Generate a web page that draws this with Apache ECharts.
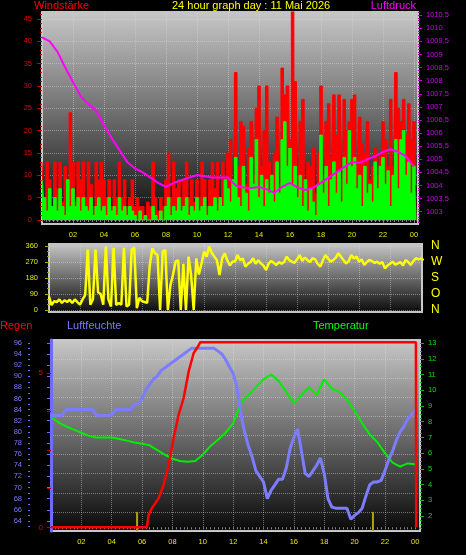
<!DOCTYPE html>
<html><head><meta charset="utf-8">
<script src="https://cdn.jsdelivr.net/npm/echarts@6/dist/echarts.min.js"></script>
<style>html,body{margin:0;padding:0;background:#000;}#c{width:466px;height:555px;}</style>
</head><body><div id="c"></div>
<script>
// ---------- data ----------
const WIND_STEP_H = 1 / 6;      // 10-minute samples
const PRESSURE_STEP_H = 0.5;
const DIR_STEP_H = 1 / 6;
const HUM_STEP_H = 0.25;
const TEMP_STEP_H = 0.5;

const windGust = [
  13,5,13,9,3,13, 7,13,4,12,9,24, 13,4,13,9,13,5, 13,8,3,13,9,13,
  9,5,9,3,9,5, 13,5,9,3,5,9, 3,5,3,3,1,4, 3,13,5,2,5,3,
  9,15,5,13,7,9, 5,9,13,5,9,4, 9,5,13,9,3,9, 13,7,13,5,13,9,
  15,18,9,33,12,22, 21,8,16,22,10,25, 30,12,20,30,13,10, 15,23,8,34,28,30,
  18,47,31,12,22,27, 9,13,12,16,6,15, 30,10,22,26,14,28, 19,28,9,27,20,22,
  27,28,14,23,17,15, 22,9,12,16,10,15, 22,18,12,27,12,33, 25,22,27,19,26,18,
  22,12
];
const windAvg = [
  9,5,2,7,3,5, 2,7,3,1,9,3, 7,3,5,2,5,3, 2,5,1,3,5,2,
  3,1,5,2,3,1, 5,2,3,1,3,2, 1,0,2,0,1,0, 0,3,1,0,2,0,
  3,5,1,3,2,5, 2,3,5,1,3,2, 5,2,3,5,1,3, 3,5,2,5,3,9,
  7,4,9,14,5,3, 12,6,2,14,8,18, 5,10,3,9,6,10, 4,13,6,18,22,12,
  16,8,12,5,10,3, 9,2,7,4,1,8, 19,6,12,3,9,13, 6,11,4,14,8,20,
  12,14,7,10,3,12, 6,8,4,13,7,12, 14,8,11,3,10,18, 7,18,20,10,13,6,
  12,8
];
const pressure = [
  1009.65,1009.5,1009.1,1008.5,1007.95,1007.4,1007.1,1006.85,1006.3,1005.8,
  1005.35,1004.9,1004.65,1004.5,1004.3,1004.1,1003.95,1004.1,1004.2,1004.3,
  1004.4,1004.35,1004.3,1004.3,1004.3,1004.0,1003.92,1003.9,1003.94,1003.85,
  1003.72,1003.95,1004.1,1003.92,1003.83,1003.92,1004.1,1004.3,1004.5,1004.7,
  1004.9,1004.87,1005.0,1005.12,1005.28,1005.38,1005.28,1005.1,1004.72
];
const windDir = [
  75,28,50,45,60,40, 55,45,58,40,60,45, 30,60,84,340,30,60, 340,100,90,30,356,60,
  20,350,28,40,30,350, 20,30,340,350,10,69, 50,45,40,253,347,320, 309,0,330,337,0,140,
  200,272,280,0,260,0, 300,197,0,290,200,260, 328,300,356,320,300,280, 197,290,319,280,250,272,
  272,309,280,290,244,260, 270,291,260,280,262,250, 225,260,276,265,253,270, 260,270,300,280,272,265,
  285,309,275,295,281,270, 291,285,260,244,280,309, 290,272,280,295,319,300, 280,262,275,309,290,300,
  272,285,253,270,281,275, 265,272,260,270,234,250, 260,272,255,262,270,250, 281,270,253,275,291,285,
  290,280
];
const humidity = [
  83,83,83,83,84,84,84,84,84,84,84,84,83,83,83,83,83,84,84,84,84,84,85,85,
  86,87.5,88.5,89.5,90,91,91.5,92,92.5,93,93.5,94,94.5,95,95,95,95,95,95,95,
  94.5,94,93,91.7,90.5,88,83.5,80,77.5,75.5,73,72,71,68,69.5,70.5,71.5,71.5,73.5,77,
  79,80.5,76.5,72.5,72,73,74,75.3,72.5,68,66.5,66.3,66.3,66.3,66.3,64.3,65,65.5,66.3,68.5,
  70.5,71,71,71.3,73,75,76.5,78.5,80,81,82.3,83,84
];
const temperature = [
  8.3,7.95,7.7,7.5,7.3,7.1,7.0,7.0,7.0,6.9,6.8,6.68,6.6,6.5,6.2,5.9,5.65,5.5,5.45,5.5,
  5.9,6.45,6.85,7.3,7.9,9.2,9.7,10.2,10.7,11.0,10.6,9.9,9.2,9.7,10.2,9.7,10.7,10.1,9.9,9.4,
  8.7,7.9,7.2,6.7,6.0,5.4,5.15,5.35,5.3
];
const rainHours  = [0, 6.32, 6.43, 6.65, 7.09, 7.42, 7.75, 8.08, 8.41, 8.74, 9.07, 9.4, 9.62, 9.84, 24.04, 24.06];
const rainValues = [0, 0,    0.4,  0.62, 0.94, 1.37, 2.02, 2.89, 3.65, 4.19, 5.05, 5.65, 5.81, 6.0, 6.0,  0];
const sunEvents = [5.67, 21.21];

// tick labels
const hourTicks = [2,4,6,8,10,12,14,16,18,20,22,24];
const hourText  = ['02','04','06','08','10','12','14','16','18','20','22','00'];
const windTicks = [0,5,10,15,20,25,30,35,40,45];
const pressureTicks = [1003,1003.5,1004,1004.5,1005,1005.5,1006,1006.5,1007,1007.5,1008,1008.5,1009,1009.5,1010,1010.5];
const dirTicks = [0,90,180,270,360];
const dirLetters = ['N','O','S','W','N'];
const humTicks = [64,66,68,70,72,74,76,78,80,82,84,86,88,90,92,94,96];
const rainTickValues = [0,1.25,2.5,3.75,5];
const rainLabels = [0,5];
const tempTicks = [2,3,4,5,6,7,8,9,10,11,12,13];

// ---------- chart ----------
const FONT = 'Liberation Sans, Arial, sans-serif';
function seq(a, b, s) { const r = []; for (let v = a; v <= b + 1e-9; v += s) r.push(+v.toFixed(3)); return r; }
const plotBg = () => ({type:'linear', x:0, y:0, x2:0, y2:1,
  colorStops:[{offset:0,color:'#c8c8c8'},{offset:0.5,color:'#6a6a6a'},{offset:1,color:'#080808'}]});
const dotted = {show:true, lineStyle:{color:'rgba(220,220,220,0.45)', type:'dotted', width:1}};
const gridStyle = {show:true, borderColor:'#c4c4c4', borderWidth:2};

function xAx(gi, max, showLabels) {
  return {type:'value', gridIndex:gi, min:0, max:max, interval:2,
    axisLine:{show:false},
    axisTick:{show:showLabels, length:2, lineStyle:{color:'#8c8c8c'}},
    minorTick:{show:showLabels, splitNumber:8, length:2, lineStyle:{color:'#8c8c8c'}},
    axisLabel:{show:showLabels, color:'#e6e600', fontSize:7.5, fontFamily:FONT, margin:7,
      showMaxLabel:false,
      formatter: v => { const k = hourTicks.indexOf(v); return k < 0 ? '' : hourText[k]; }},
    splitLine: dotted};
}
function minorAx(gi, pos, min, max, values, color, offset) {
  return {type:'value', gridIndex:gi, position:pos, offset:offset||0, min:min, max:max,
    axisLine:{show:false}, splitLine:{show:false}, axisLabel:{show:false},
    axisTick:{show:true, customValues:values, length:2, lineStyle:{color:color}}};
}
function lbl(color, size, margin, extra) {
  return Object.assign({color:color, fontSize:size, fontFamily:FONT, margin:margin}, extra||{});
}

const W = {min:-0.9, max:46.55};
const P = {min:1002.53, max:1010.62};
const D = {min:-11, max:371};
const H = {min:62.2, max:96.5};
const R = {min:-0.12, max:6.07};
const T = {min:1.05, max:13.2};

const option = {
  backgroundColor:'#000',
  animation:false,
  title:[
    {text:'Windstärke', left:34, top:0, padding:0, textStyle:{color:'#ff0000', fontSize:11, fontWeight:'normal', fontFamily:FONT}},
    {text:'24 hour graph day : 11 Mai 2026', left:172, top:0, padding:0, textStyle:{color:'#ffff00', fontSize:11, fontWeight:'normal', fontFamily:FONT}},
    {text:'Luftdruck', right:50, top:0, padding:0, textStyle:{color:'#ff00ff', fontSize:11, fontWeight:'normal', fontFamily:FONT}},
    {text:'Regen', left:0, top:320, padding:0, textStyle:{color:'#ff0000', fontSize:11, fontWeight:'normal', fontFamily:FONT}},
    {text:'Luftfeuchte', left:67, top:320, padding:0, textStyle:{color:'#7b7bff', fontSize:11, fontWeight:'normal', fontFamily:FONT}},
    {text:'Temperatur', left:313, top:320, padding:0, textStyle:{color:'#00ff00', fontSize:11, fontWeight:'normal', fontFamily:FONT}}
  ],
  grid:[
    Object.assign({left:42, top:12, width:376, height:212, backgroundColor:plotBg()}, gridStyle),
    Object.assign({left:49, top:244, width:373, height:68, backgroundColor:plotBg()}, gridStyle),
    Object.assign({left:51, top:340, width:369, height:191, backgroundColor:plotBg()}, gridStyle)
  ],
  xAxis:[ xAx(0, 24.26, true), xAx(1, 24.06, false), xAx(2, 24.31, true) ],
  yAxis:[
    // 0 wind
    {type:'value', gridIndex:0, position:'left', min:W.min, max:W.max, axisLine:{show:false},
      axisLabel:lbl('#e00000', 7.5, 10, {customValues:windTicks}),
      axisTick:{customValues:windTicks, length:5, lineStyle:{color:'#c80000'}}, splitLine:dotted},
    // 1 wind minor
    minorAx(0, 'left', W.min, W.max, seq(0, 46, 1), '#c80000'),
    // 2 pressure
    {type:'value', gridIndex:0, position:'right', min:P.min, max:P.max, axisLine:{show:false}, splitLine:{show:false},
      axisLabel:lbl('#cc00ee', 7.5, 8, {customValues:pressureTicks, formatter: v => String(v).replace('.', ',')}),
      axisTick:{customValues:pressureTicks, length:4, lineStyle:{color:'#cc00cc'}}},
    // 3 pressure minor
    minorAx(0, 'right', P.min, P.max, seq(1002.6, 1010.6, 0.1), '#b000b0'),
    // 4 direction
    {type:'value', gridIndex:1, position:'left', min:D.min, max:D.max, axisLine:{show:false},
      axisLabel:lbl('#e6e600', 7.5, 11, {customValues:dirTicks}),
      axisTick:{customValues:dirTicks, length:4, lineStyle:{color:'#b0b000'}}, splitLine:dotted},
    // 5 direction minor
    minorAx(1, 'left', D.min, D.max, seq(0, 360, 30), '#a0a000'),
    // 6 direction letters
    {type:'value', gridIndex:1, position:'right', min:D.min, max:D.max, axisLine:{show:false}, splitLine:{show:false},
      axisTick:{show:false, customValues:dirTicks},
      axisLabel:lbl('#ffff00', 12, 9, {customValues:dirTicks, formatter: v => dirLetters[dirTicks.indexOf(v)]})},
    // 7 humidity
    {type:'value', gridIndex:2, position:'left', offset:21, min:H.min, max:H.max,
      axisLine:{show:true, lineStyle:{color:'#6c6cff', width:3}}, splitLine:{show:false},
      axisLabel:lbl('#7a7aff', 7.5, 8, {customValues:humTicks}),
      axisTick:{customValues:humTicks, length:4, lineStyle:{color:'#6c6cff'}}},
    // 8 humidity minor
    minorAx(2, 'left', H.min, H.max, seq(63, 96, 1), '#6c6cff', 21),
    // 9 rain
    {type:'value', gridIndex:2, position:'left', min:R.min, max:R.max, axisLine:{show:false}, splitLine:{show:false},
      axisLabel:lbl('#dd0000', 8, 8, {customValues:rainLabels}),
      axisTick:{customValues:rainTickValues, length:4, lineStyle:{color:'#c00000'}}},
    // 10 temperature
    {type:'value', gridIndex:2, position:'right', min:T.min, max:T.max, axisLine:{show:false}, splitLine:{show:false},
      axisLabel:lbl('#00e000', 7.5, 8, {customValues:tempTicks}),
      axisTick:{customValues:tempTicks, length:4, lineStyle:{color:'#00c000'}}},
    // 11 temperature minor
    minorAx(2, 'right', T.min, T.max, seq(1.25, 13, 0.25), '#00b000'),
    // 12 bottom grid lines / sun marks
    {type:'value', gridIndex:2, position:'left', min:0, max:10, interval:1, axisLine:{show:false},
      axisLabel:{show:false}, axisTick:{show:false}, splitLine:dotted}
  ],
  series:[
    {type:'line', xAxisIndex:0, yAxisIndex:0, step:'middle', symbol:'none', z:2,
      data: windGust.map((v, i) => [i * WIND_STEP_H, v]),
      lineStyle:{color:'#ff0000', width:1}, areaStyle:{color:'#ff0000', opacity:1}},
    {type:'line', xAxisIndex:0, yAxisIndex:0, step:'middle', symbol:'none', z:3,
      data: windAvg.map((v, i) => [i * WIND_STEP_H, v]),
      lineStyle:{color:'#00ff00', width:1}, areaStyle:{color:'#00ff00', opacity:1}},
    {type:'line', xAxisIndex:0, yAxisIndex:2, symbol:'none', z:4,
      data: pressure.map((v, i) => [i * PRESSURE_STEP_H, v]),
      lineStyle:{color:'#ff00ff', width:2}},
    {type:'line', xAxisIndex:1, yAxisIndex:4, symbol:'none',
      data: windDir.map((v, i) => [i * DIR_STEP_H, v]),
      lineStyle:{color:'#ffff00', width:2.5}},
    {type:'bar', xAxisIndex:2, yAxisIndex:12, barWidth:2,
      data: sunEvents.map(h => [h, 1]), itemStyle:{color:'#a8a800'}},
    {type:'line', xAxisIndex:2, yAxisIndex:10, symbol:'none', z:3,
      data: temperature.map((v, i) => [i * TEMP_STEP_H, v]),
      lineStyle:{color:'#00ee00', width:2}},
    {type:'line', xAxisIndex:2, yAxisIndex:7, symbol:'none', z:4,
      data: humidity.map((v, i) => [i * HUM_STEP_H, v]),
      lineStyle:{color:'#7c7cff', width:3}},
    {type:'line', xAxisIndex:2, yAxisIndex:9, symbol:'none', z:5,
      data: rainHours.map((h, i) => [h, rainValues[i]]),
      lineStyle:{color:'#ff0000', width:2.5}}
  ]
};
const chart = echarts.init(document.getElementById('c'));
chart.setOption(option);
</script>
</body></html>
